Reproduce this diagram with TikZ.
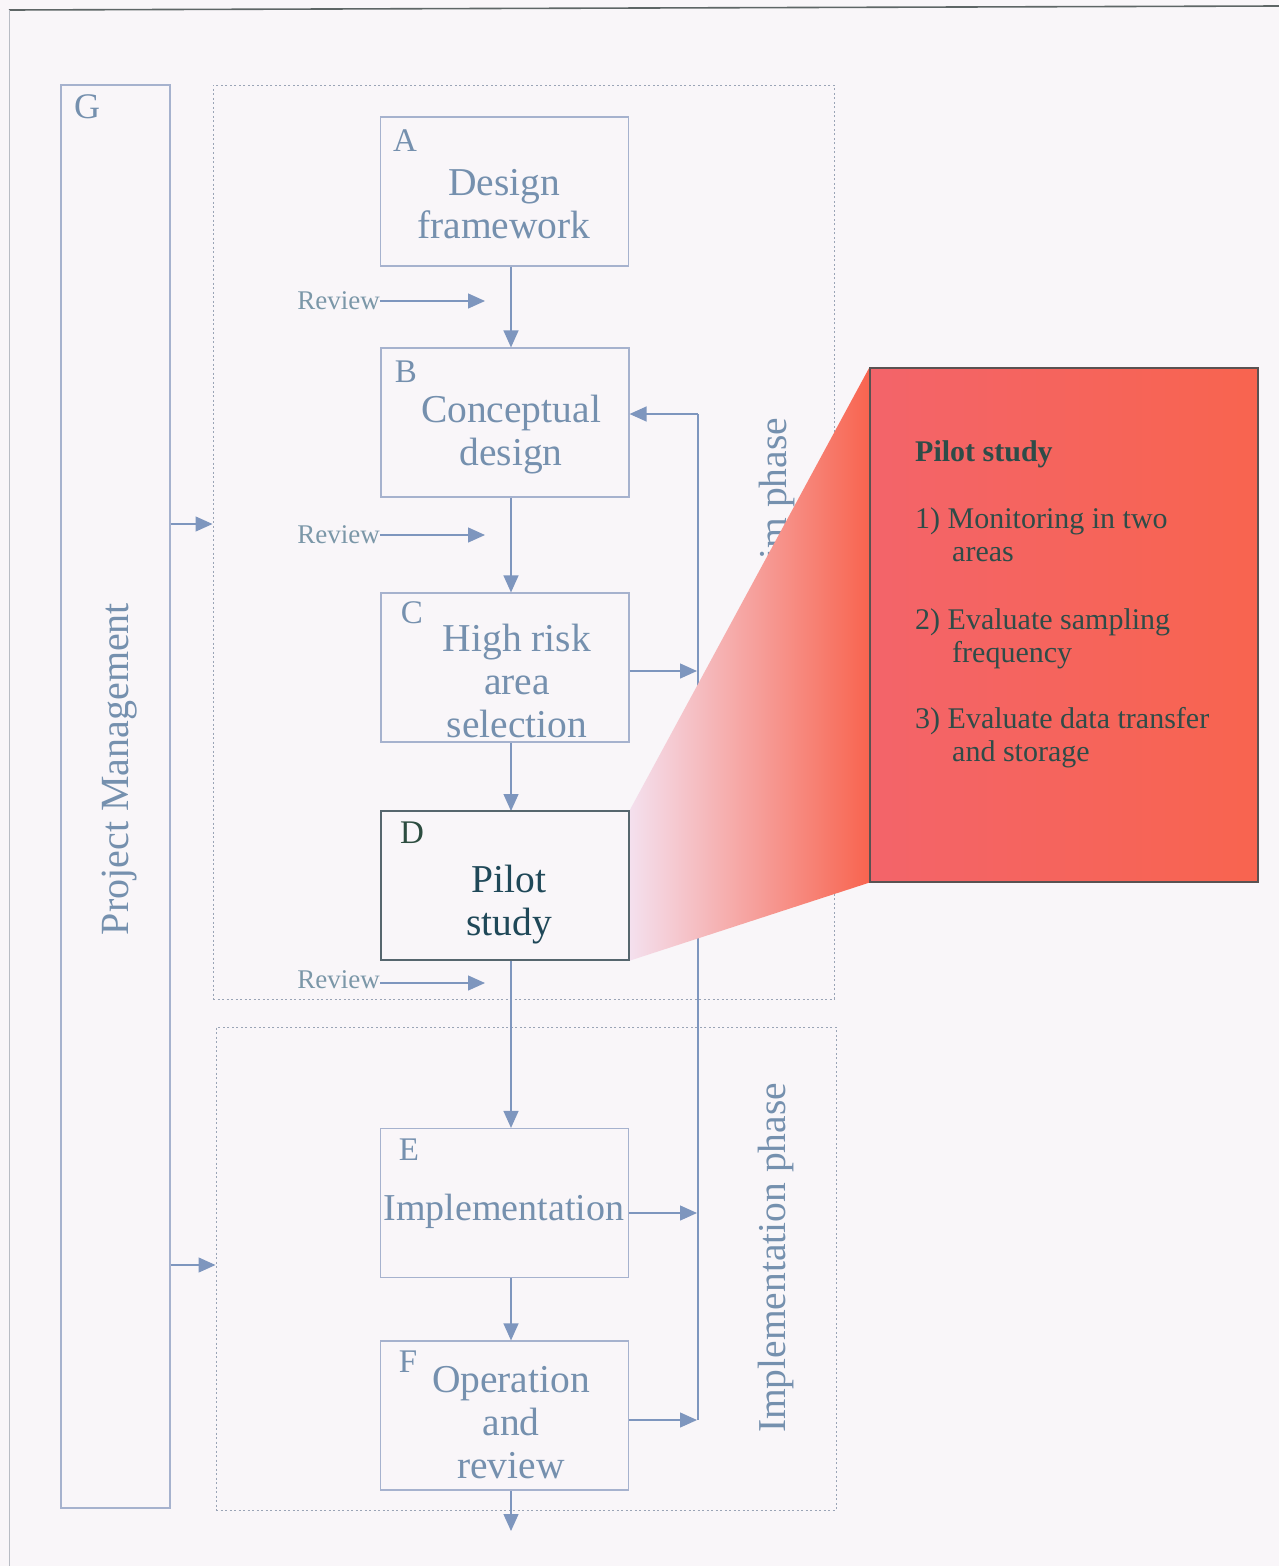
\documentclass[tikz,border=0pt]{standalone}
\usepackage{fontspec}
\setmainfont{Liberation Serif}
\usetikzlibrary{arrows.meta,calc}

\definecolor{pagebg}{HTML}{F9F6F9}
\definecolor{lavbg}{HTML}{F4E9F7}
\definecolor{boxline}{HTML}{A6B2CE}
\definecolor{boxtxt}{HTML}{7590AE}
\definecolor{revtxt}{HTML}{7B97A8}
\definecolor{flowcol}{HTML}{7E96BE}
\definecolor{dotcol}{HTML}{9AA4B6}
\definecolor{pilotline}{HTML}{56666E}
\definecolor{pilottxt}{HTML}{1F4858}
\definecolor{pilotletter}{HTML}{2D4D40}
\definecolor{calltxt}{HTML}{2E4C48}
\definecolor{callred}{HTML}{F8644F}
\definecolor{callpink}{HTML}{F4E0EE}
\definecolor{callmid}{HTML}{F7846F}
\definecolor{callrose}{HTML}{F3646A}
\definecolor{callborder}{HTML}{5A5252}
\definecolor{framecol}{HTML}{5E6666}
\definecolor{sideline}{HTML}{B8BCC4}

\tikzset{
  stagebox/.style={draw=boxline, line width=1.2pt, minimum width=248pt,
    minimum height=149pt, inner sep=0pt},
  stagetxt/.style={text=boxtxt, font=\fontsize{39.5}{43}\selectfont,
    align=center, inner sep=0pt, anchor=north},
  stageletter/.style={text=boxtxt, font=\fontsize{33}{36}\selectfont,
    inner sep=0pt},
  reviewtxt/.style={text=revtxt, font=\fontsize{27}{30}\selectfont,
    inner sep=0pt, anchor=east},
  flow/.style={draw=flowcol, line width=1.3pt,
    -{Triangle[length=17pt,width=15pt]}},
  plainflow/.style={draw=flowcol, line width=1.3pt},
  phasebox/.style={draw=dotcol, line width=1pt, dash pattern=on 2pt off 2.5pt,
    inner sep=0pt},
  phasetxt/.style={text=boxtxt, font=\fontsize{39.5}{43}\selectfont,
    rotate=90, inner sep=0pt},
  calltext/.style={text=calltxt, font=\fontsize{30}{33}\selectfont,
    align=left, inner sep=0pt, anchor=north west}
}

\begin{document}
\begin{tikzpicture}[x=1pt,y=-1pt]
\useasboundingbox (0,0) rectangle (1279,1566);

% paper
\fill[pagebg] (0,0) rectangle (1279,1566);
\shade[left color=pagebg, middle color=lavbg, right color=pagebg]
  (150,12) rectangle (900,1566);

% page frame
\draw[framecol, line width=1.6pt] (9,10) -- (1279,6);
\draw[sideline, line width=1pt] (9,10) -- (9,1566);

% project management column
\node[draw=boxline, line width=1.2pt, minimum width=109pt,
  minimum height=1423pt, inner sep=0pt] (G) at (115.5,796.5) {};
\node[stageletter, font=\fontsize{36}{40}\selectfont] (Glabel) at (87,107) {G};
\node[phasetxt, font=\fontsize{40}{44}\selectfont] (pm) at (120,769)
  {Project Management};

% phase frames
\node[phasebox, minimum width=621pt, minimum height=914pt] (design)
  at (523.5,542) {};
\node[phasebox, minimum width=620pt, minimum height=483pt] (impl)
  at (526,1268.5) {};
\node[phasetxt] (interim) at (777,526) {Interim phase};
\node[phasetxt] (impllabel) at (776,1258) {Implementation phase};

% stages
\node[stagebox] (A) at (504.5,191.5) {};
\node[stagebox] (B) at (505,422.5) {};
\node[stagebox] (C) at (505,667.5) {};
\node[stagebox] (E) at (504.5,1203) {};
\node[stagebox] (F) at (504.5,1415.5) {};

\node[stageletter] (Al) at (405,141) {A};
\node[stagetxt] (At) at (504,169) {Design\\framework};
\node[stageletter] (Bl) at (406,372) {B};
\node[stagetxt] (Bt) at (511,395) {Conceptual\\design};
\node[stageletter] (Cl) at (412,613) {C};
\node[stagetxt] (Ct) at (517,624) {High risk\\area\\selection};
\node[stageletter] (El) at (409,1150) {E};
\node[stagetxt, font=\fontsize{38}{43}\selectfont] (Et) at (504,1194)
  {Implementation};
\node[stageletter] (Fl) at (408,1362) {F};
\node[stagetxt] (Ft) at (511,1366) {Operation\\and\\review};

% main flow
\coordinate (fx) at (511,0);
\draw[flow] (A.south -| fx) -- (B.north -| fx);
\draw[flow] (B.south -| fx) -- (C.north -| fx);
\coordinate (Dtop) at (511,811);
\coordinate (Dbot) at (511,960);
\draw[flow] (C.south -| fx) -- (Dtop);
\draw[flow] (Dbot) -- (E.north -| fx);
\draw[flow] (E.south -| fx) -- (F.north -| fx);
\coordinate (out) at (511,1531);
\draw[flow] (F.south -| fx) -- (out);

% reviews
\node[reviewtxt] (r1) at (380,301) {Review};
\coordinate (r1e) at (485,301);
\draw[flow] (r1.east) -- (r1e);
\node[reviewtxt] (r2) at (380,535) {Review};
\coordinate (r2e) at (485,535);
\draw[flow] (r2.east) -- (r2e);
\node[reviewtxt] (r3) at (380,980) {Review};
\coordinate (r3e) at (485,983);
\draw[flow] (r3.east |- r3e) -- (r3e);

% project management feeds both phases
\coordinate (g1) at (213,524);
\draw[flow] (G.east |- g1) -- (design.west |- g1);
\coordinate (g2) at (216,1265);
\draw[flow] (G.east |- g2) -- (impl.west |- g2);

% feedback loop
\coordinate (fbTop) at (698,414);
\coordinate (fbBot) at (698,1420);
\draw[plainflow] (fbBot) -- (fbTop);
\draw[flow] (fbTop) -- (B.east |- fbTop);
\coordinate (cArr) at (697,671);
\draw[flow] (C.east |- cArr) -- (cArr);
\coordinate (eArr) at (697,1213);
\draw[flow] (E.east |- eArr) -- (eArr);
\coordinate (fArr) at (697,1420);
\draw[flow] (F.east |- fArr) -- (fArr);

% pilot study callout
\node[draw=callborder, line width=1.2pt, minimum width=388pt,
  minimum height=514pt, inner sep=0pt,
  left color=callrose, middle color=callred, right color=callred]
  (call) at (1064,625) {};
\node[draw=pilotline, line width=1.3pt, minimum width=248pt,
  minimum height=149pt, inner sep=0pt] (D) at (505,885.5) {};
\shade[left color=callpink, middle color=callmid, right color=callred]
  (D.north east) -- (call.north west) -- (call.south west)
  -- (D.south east) -- cycle;
\draw[draw=pilotline, line width=1.3pt] (D.north west) rectangle (D.south east);
\draw[callborder, line width=1.2pt] (call.north west) rectangle (call.south east);
\node[stageletter, text=pilotletter] (Dl) at (412,833) {D};
\node[stagetxt, text=pilottxt] (Dt) at (509,865) {Pilot\\study};

\node[calltext] (calllist) at (915,440)
  {\textbf{Pilot study}\\[34pt]
   1) Monitoring in two\\\hspace*{37pt}areas\\[35pt]
   2) Evaluate sampling\\\hspace*{37pt}frequency\\[33pt]
   3) Evaluate data transfer\\\hspace*{37pt}and storage};
\end{tikzpicture}
\end{document}
